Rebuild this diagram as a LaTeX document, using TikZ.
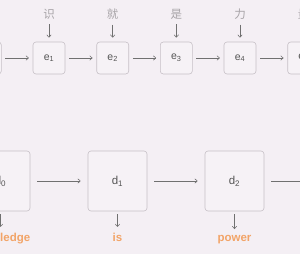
\documentclass[tikz,border=0pt]{standalone}
\usepackage{fontspec}
\setmainfont{Liberation Sans}
\newfontfamily\cjk{Noto Sans CJK SC}
\usetikzlibrary{arrows.meta}
\definecolor{bgc}{HTML}{F4EFF4}
\definecolor{boxfill}{HTML}{F6F2F6}
\definecolor{boxline}{HTML}{C6C0C6}
\definecolor{arrc}{HTML}{707070}
\definecolor{txtc}{HTML}{555555}
\definecolor{cjkc}{HTML}{A8A4A8}
\definecolor{orng}{HTML}{F2A468}
\tikzset{
  ebox/.style={draw=boxline, fill=boxfill, rounded corners=3pt, minimum width=32pt, minimum height=32pt, inner sep=0pt, text=txtc, font=\fontsize{10.5}{12}\selectfont, line width=0.6pt},
  dbox/.style={draw=boxline, fill=boxfill, rounded corners=3pt, minimum width=59pt, minimum height=60pt, inner sep=0pt, text=txtc, font=\fontsize{11.5}{13}\selectfont, line width=0.6pt},
  zh/.style={text=cjkc, font=\cjk\fontsize{11.5}{13}\selectfont, inner sep=0pt},
  word/.style={text=orng, font=\bfseries\fontsize{11.5}{13}\selectfont, inner sep=0pt},
  conn/.style={draw=arrc, line width=0.55pt, -{Straight Barb[length=2.5pt,width=4.5pt]}},
}
\begin{document}
\begin{tikzpicture}[x=1pt,y=-1pt]
\useasboundingbox (0,0) rectangle (300,254);
\fill[bgc] (0,0) rectangle (300,254);
\clip (0,0) rectangle (300,254);
% top row
\foreach \i/\x/\c in {0/-14.7/知,1/49/识,2/112.7/就,3/176.3/是,4/240/力,5/303.7/量}{
  \node[ebox] (e\i) at (\x,58) {e\textsubscript{\i}};
  \node[zh] (c\i) at (\x,14.5) {\c};
  \draw[conn, shorten <=4.5pt, shorten >=4pt] (c\i) -- (e\i);
}
\foreach \a/\b in {0/1,1/2,2/3,3/4,4/5}{
  \draw[conn, shorten <=3.8pt, shorten >=3.8pt] (e\a) -- (e\b);
}
% bottom row
\foreach \i/\x/\w in {0/0.5/knowledge,1/117.5/is,2/234.5/power,3/351.5/{}}{
  \node[dbox] (d\i) at (\x,181) {d\textsubscript{\i}};
  \node[word, anchor=base] (w\i) at (\x,241) {\vphantom{pg}\w};
}
\foreach \i in {0,1,2}{
  \draw[conn, shorten <=3pt, shorten >=5.5pt] (d\i) -- (w\i);
}
\foreach \a/\b in {0/1,1/2,2/3}{
  \draw[conn, shorten <=7pt, shorten >=7pt] (d\a) -- (d\b);
}
\end{tikzpicture}
\end{document}
